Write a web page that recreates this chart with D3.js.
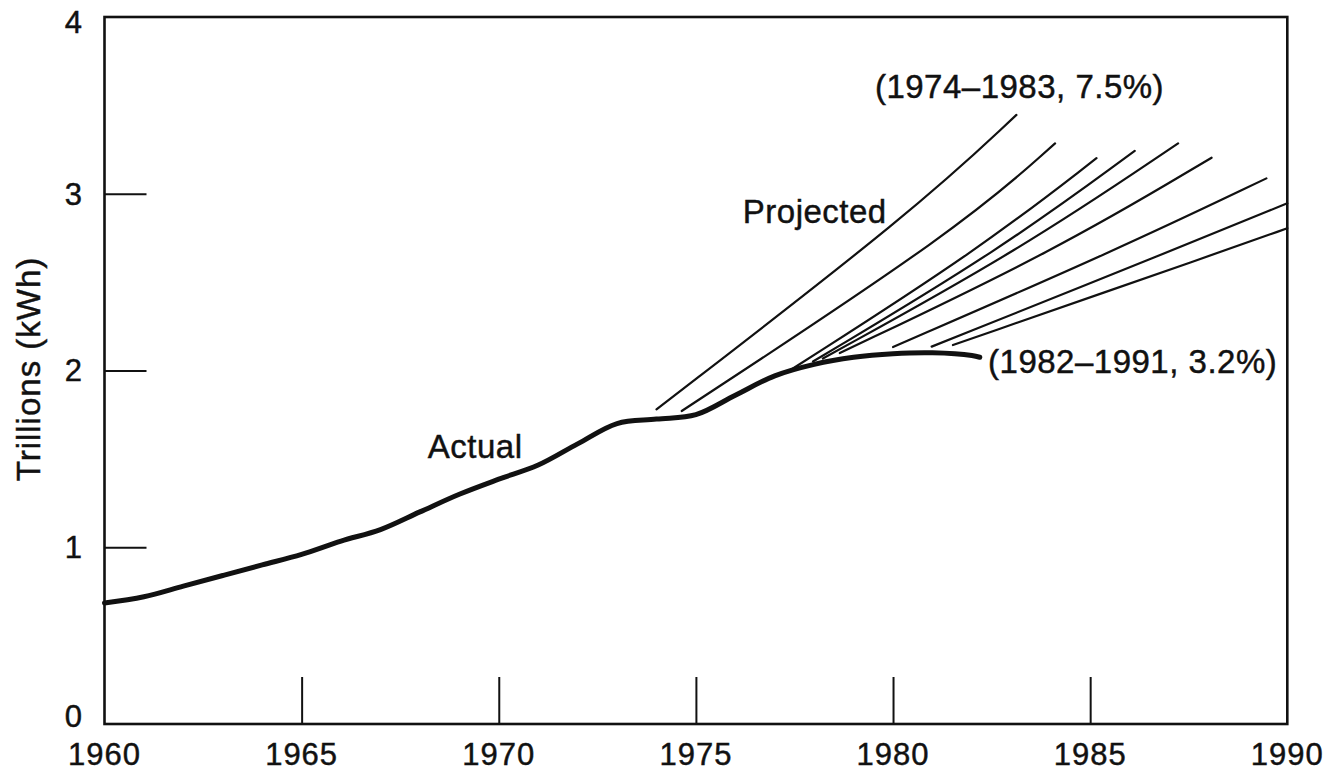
<!DOCTYPE html>
<html>
<head>
<meta charset="utf-8">
<script src="https://cdn.jsdelivr.net/npm/d3@7"></script>
<style>
  html, body { margin: 0; padding: 0; background: #fff; }
  svg { display: block; }
  text { font-family: "Liberation Sans", Arial, Helvetica, sans-serif; fill: #111; stroke: #111; stroke-width: 0.45px; }
</style>
</head>
<body>
<svg id="chart" width="1331" height="775"></svg>
<script>
// ---- data ----
const actualYears  = [1960, 1961, 1962, 1963, 1964, 1965, 1966, 1967, 1968, 1969, 1970, 1971, 1972, 1973, 1974, 1975, 1976, 1977, 1978, 1979, 1980, 1981, 1982, 1982.2];
const actualValues = [0.685, 0.72, 0.78, 0.84, 0.90, 0.96, 1.035, 1.10, 1.20, 1.30, 1.385, 1.465, 1.585, 1.70, 1.725, 1.75, 1.86, 1.97, 2.035, 2.075, 2.095, 2.10, 2.085, 2.075];

const projectionLabels = ["1974-1983", "1975-1984", "1976-1985", "1977-1986", "1978-1987", "1979-1988", "1980-1989", "1981-1990", "1982-1991"];
const projectionYears = [
  [1974.00, 1980.56, 1983.13],
  [1974.64, 1981.70, 1984.11],
  [1977.43, 1982.16, 1985.16],
  [1977.97, 1982.71, 1986.13],
  [1978.22, 1983.22, 1987.23],
  [1978.65, 1984.15, 1988.08],
  [1980.00, 1985.67, 1989.47],
  [1980.98, 1987.11, 1990.00],
  [1981.52, 1988.46, 1990.00]
];
const projectionValues = [
  [1.780, 2.908, 3.446],
  [1.771, 2.805, 3.285],
  [2.007, 2.682, 3.201],
  [2.051, 2.682, 3.242],
  [2.068, 2.682, 3.285],
  [2.099, 2.682, 3.204],
  [2.133, 2.682, 3.087],
  [2.135, 2.682, 2.946],
  [2.144, 2.682, 2.805]
];

const xTickValues = [1960, 1965, 1970, 1975, 1980, 1985, 1990];
const yTickValues = [0, 1, 2, 3, 4];
const yAxisTitle = "Trillions (kWh)";
const annotationTexts  = ["(1974\u20131983, 7.5%)", "(1982\u20131991, 3.2%)", "Projected", "Actual"];
const annotationYears  = [1979.54, 1982.41, 1976.19, 1968.2];
const annotationValues = [3.54, 1.986, 2.835, 1.505];

// ---- layout ----
const svg = d3.select("#chart");
const x = d3.scaleLinear().domain([1960, 1990]).range([104.5, 1287.3]);
const y = d3.scaleLinear().domain([0, 4]).range([724, 17]);

// frame
svg.append("rect")
  .attr("x", x(1960)).attr("y", y(4))
  .attr("width", x(1990) - x(1960)).attr("height", y(0) - y(4))
  .attr("fill", "none").attr("stroke", "#111").attr("stroke-width", 2.6);

// y ticks (inward, from left edge)
const yAxis = d3.axisRight(y).tickValues(yTickValues.filter(v => v > 0 && v < 4)).tickSize(42).tickFormat("");
svg.append("g").attr("transform", `translate(${x(1960)},0)`).call(yAxis)
  .call(g => g.select(".domain").remove())
  .call(g => g.selectAll("line").attr("stroke", "#111").attr("stroke-width", 2));

// x ticks (inward, upward from bottom)
const xAxis = d3.axisTop(x).tickValues(xTickValues.filter(v => v > 1960 && v < 1990)).tickSize(47).tickFormat("");
svg.append("g").attr("transform", `translate(0,${y(0)})`).call(xAxis)
  .call(g => g.select(".domain").remove())
  .call(g => g.selectAll("line").attr("stroke", "#111").attr("stroke-width", 2));

// tick labels
svg.append("g").selectAll("text").data(yTickValues).join("text")
  .attr("x", 83).attr("y", d => Math.max(22, Math.min(y(d), 716))).attr("dy", "0.35em")
  .attr("text-anchor", "end").attr("font-size", 31).attr("letter-spacing", 1)
  .text(d => d);

svg.append("g").selectAll("text").data(xTickValues).join("text")
  .attr("x", d => x(d)).attr("y", 765)
  .attr("text-anchor", "middle").attr("font-size", 31).attr("letter-spacing", 1)
  .text(d => d);

// y-axis title
svg.append("text")
  .attr("transform", `translate(28,${369}) rotate(-90)`)
  .attr("text-anchor", "middle").attr("dominant-baseline", "central")
  .attr("font-size", 33).attr("letter-spacing", 1)
  .text(yAxisTitle);

// projections
const line = d3.line().x(d => x(d[0])).y(d => y(d[1])).curve(d3.curveBasis);
svg.append("g").selectAll("path").data(projectionYears.map((ys, i) => ys.map((yr, j) => [yr, projectionValues[i][j]])))
  .join("path")
  .attr("d", line)
  .attr("fill", "none").attr("stroke", "#111").attr("stroke-width", 2.2).attr("stroke-linecap", "round");

// actual
const actualData = actualYears.map((yr, i) => [yr, actualValues[i]]);
svg.append("path").datum(actualData)
  .attr("d", d3.line().x(d => x(d[0])).y(d => y(d[1])).curve(d3.curveCatmullRom.alpha(0.5)))
  .attr("fill", "none").attr("stroke", "#111").attr("stroke-width", 5).attr("stroke-linecap", "round").attr("stroke-linejoin", "round");

// annotations
svg.append("g").selectAll("text").data(annotationTexts).join("text")
  .attr("x", (d, i) => x(annotationYears[i]))
  .attr("y", (d, i) => y(annotationValues[i]))
  .attr("font-size", 33).attr("letter-spacing", 0.5)
  .text(d => d);
</script>
</body>
</html>
